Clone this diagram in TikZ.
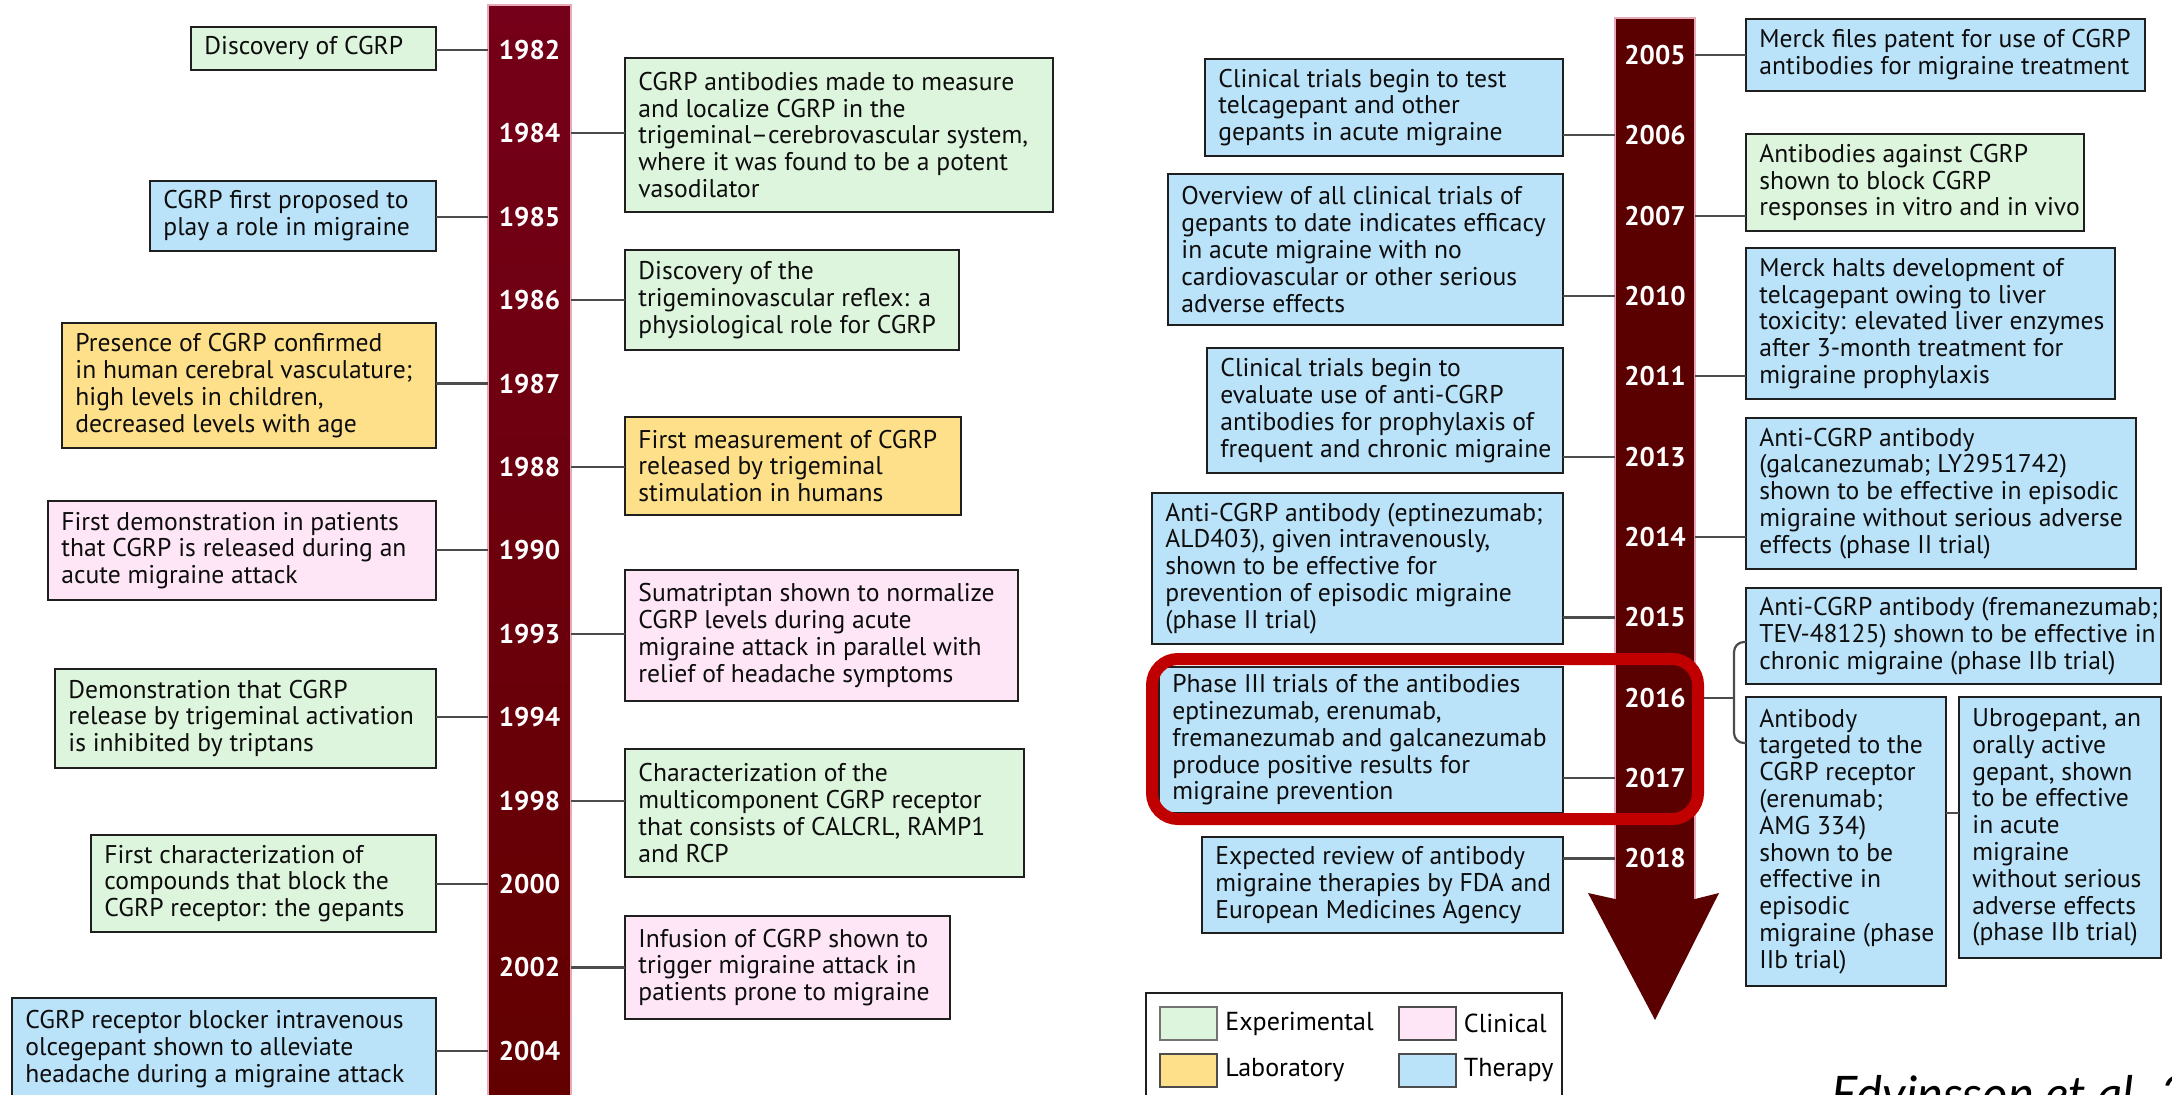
\documentclass[tikz,border=0pt]{standalone}
\usepackage{fontspec}
\setmainfont{PT Sans}
\newfontfamily\citefont{Lato}

\definecolor{expc}{RGB}{221,245,220}
\definecolor{labc}{RGB}{255,224,138}
\definecolor{clinc}{RGB}{254,230,247}
\definecolor{therc}{RGB}{186,226,249}
\definecolor{barTop}{RGB}{117,0,25}
\definecolor{barBot}{RGB}{98,0,0}
\definecolor{barR}{RGB}{90,0,0}
\definecolor{barEdge}{RGB}{230,170,185}
\definecolor{hl}{RGB}{192,0,0}

% event box: name, fill, x0, y0, x1, y1, text (pixel coordinates)
\newcommand\evbox[7]{%
  \node[frame,fill=#2,minimum width={(#5-#3)*0.5pt},minimum height={(#6-#4)*0.5pt}]
    (#1) at ({(#3+#5)/2},{(#4+#6)/2}) {};
  \node[evtext,anchor=west] (#1t) at ([xshift=6.5pt]#1.west) {#7};}

\begin{document}
\begin{tikzpicture}[x=0.5pt,y=-0.5pt,
  frame/.style={draw=black!88,line width=1pt,inner sep=0pt,outer sep=0pt},
  evtext/.style={inner sep=0pt,align=left,text=black!95,font=\fontsize{12.8}{13.4}\selectfont},
  year/.style={text=white,font=\fontsize{13.5}{16}\selectfont\bfseries,inner sep=0pt},
  conn/.style={draw=black!70,line width=1.1pt},
  barstyle/.style={draw=barEdge,line width=0.6pt,inner sep=0pt,outer sep=0pt},
  swatch/.style={draw=black!70,line width=1pt,minimum width=28.5pt,minimum height=16.5pt,inner sep=0pt},
  legtext/.style={inner sep=0pt,anchor=west,font=\fontsize{13}{15}\selectfont}
]
\useasboundingbox (0,0) rectangle (2172,1095);
\fill[white] (0,0) rectangle (2172,1095);

% ---------- timeline bars ----------
\node[barstyle,top color=barTop,bottom color=barBot,minimum width=41.5pt,minimum height=547.5pt]
  (barL) at (529.5,552.5) {};
\node[barstyle,fill=barR,minimum width=40pt,minimum height=442.5pt]
  (barR) at (1655,460.5) {};
\fill[barR] (1615,899) -- (1588,893) -- (1655,1020) -- (1719,893) -- (1695,899) -- cycle;

% ---------- year labels ----------
\foreach \yr [count=\i from 0] in {1982,1984,1985,1986,1987,1988,1990,1993,1994,1998,2000,2002,2004}
  \node[year] (y\yr) at (529.5,{50+83.4*\i}) {\yr};
\foreach \yr [count=\i from 0] in {2005,2006,2007,2010,2011,2013,2014,2015,2016,2017,2018}
  \node[year] (y\yr) at (1655,{55+80.35*\i}) {\yr};

% ---------- 1982--2004, left of bar ----------
\evbox{l1}{expc}{191}{27}{436}{70}{Discovery of CGRP}
\evbox{l2}{therc}{150}{181}{436}{251}{CGRP first proposed to\\play a role in migraine}
\evbox{l3}{labc}{62}{323}{436}{448}{Presence of CGRP confirmed\\in human cerebral vasculature;\\high levels in children,\\decreased levels with age}
\evbox{l4}{clinc}{48}{501}{436}{600}{First demonstration in patients\\that CGRP is released during an\\acute migraine attack}
\evbox{l5}{expc}{55}{669}{436}{768}{Demonstration that CGRP\\release by trigeminal activation\\is inhibited by triptans}
\evbox{l6}{expc}{91}{835}{436}{932}{First characterization of\\compounds that block the\\CGRP receptor: the gepants}
\evbox{l7}{therc}{12}{998}{436}{1100}{CGRP receptor blocker intravenous\\olcegepant shown to alleviate\\headache during a migraine attack}

% ---------- 1982--2004, right of bar ----------
\evbox{m1}{expc}{625}{58}{1053}{212}{CGRP antibodies made to measure\\and localize CGRP in the\\trigeminal--cerebrovascular system,\\where it was found to be a potent\\vasodilator}
\evbox{m2}{expc}{625}{250}{959}{350}{Discovery of the\\trigeminovascular reflex: a\\physiological role for CGRP}
\evbox{m3}{labc}{625}{417}{961}{515}{First measurement of CGRP\\released by trigeminal\\stimulation in humans}
\evbox{m4}{clinc}{625}{570}{1018}{701}{Sumatriptan shown to normalize\\CGRP levels during acute\\migraine attack in parallel with\\relief of headache symptoms}
\evbox{m5}{expc}{625}{749}{1024}{877}{Characterization of the\\multicomponent CGRP receptor\\that consists of CALCRL, RAMP1\\and RCP}
\evbox{m6}{clinc}{625}{916}{950}{1019}{Infusion of CGRP shown to\\trigger migraine attack in\\patients prone to migraine}

% ---------- 2005--2018, left of bar ----------
\evbox{p1}{therc}{1205}{59}{1563}{156}{Clinical trials begin to test\\telcagepant and other\\gepants in acute migraine}
\evbox{p2}{therc}{1168}{174}{1563}{325}{Overview of all clinical trials of\\gepants to date indicates efficacy\\in acute migraine with no\\cardiovascular or other serious\\adverse effects}
\evbox{p3}{therc}{1207}{348}{1563}{473}{Clinical trials begin to\\evaluate use of anti-CGRP\\antibodies for prophylaxis of\\frequent and chronic migraine}
\evbox{p4}{therc}{1152}{493}{1563}{644}{Anti-CGRP antibody (eptinezumab;\\ALD403), given intravenously,\\shown to be effective for\\prevention of episodic migraine\\(phase II trial)}
\evbox{p5}{therc}{1159}{667}{1563}{813}{Phase III trials of the antibodies\\eptinezumab, erenumab,\\fremanezumab and galcanezumab\\produce positive results for\\migraine prevention}
\evbox{p6}{therc}{1202}{837}{1563}{933}{Expected review of antibody\\migraine therapies by FDA and\\European Medicines Agency}

% ---------- 2005--2018, right of bar ----------
\evbox{r1}{therc}{1746}{19}{2145}{91}{Merck files patent for use of CGRP\\antibodies for migraine treatment}
\evbox{r2}{expc}{1746}{134}{2084}{231}{Antibodies against CGRP\\shown to block CGRP\\responses in vitro and in vivo}
\evbox{r3}{therc}{1746}{248}{2115}{399}{Merck halts development of\\telcagepant owing to liver\\toxicity: elevated liver enzymes\\after 3-month treatment for\\migraine prophylaxis}
\evbox{r4}{therc}{1746}{418}{2136}{569}{Anti-CGRP antibody\\(galcanezumab; LY2951742)\\shown to be effective in episodic\\migraine without serious adverse\\effects (phase II trial)}
\evbox{r5}{therc}{1746}{588}{2161}{684}{Anti-CGRP antibody (fremanezumab;\\TEV-48125) shown to be effective in\\chronic migraine (phase IIb trial)}
\evbox{r6}{therc}{1746}{697}{1946}{986}{Antibody\\targeted to the\\CGRP receptor\\(erenumab;\\AMG 334)\\shown to be\\effective in\\episodic\\migraine (phase\\IIb trial)}
\evbox{r7}{therc}{1959}{697}{2161}{958}{Ubrogepant, an\\orally active\\gepant, shown\\to be effective\\in acute\\migraine\\without serious\\adverse effects\\(phase IIb trial)}

% ---------- connectors ----------
\foreach \b/\yr in {l1/1982,l2/1985,l3/1987,l4/1990,l5/1994,l6/2000,l7/2004}
  \draw[conn] (\b.east |- y\yr) -- (barL.west |- y\yr);
\foreach \b/\yr in {m1/1984,m2/1986,m3/1988,m4/1993,m5/1998,m6/2002}
  \draw[conn] (barL.east |- y\yr) -- (\b.west |- y\yr);
\foreach \b/\yr in {p1/2006,p2/2010,p3/2013,p4/2015,p5/2017,p6/2018}
  \draw[conn] (\b.east |- y\yr) -- (barR.west |- y\yr);
\foreach \b/\yr in {r1/2005,r2/2007,r3/2011,r4/2014}
  \draw[conn] (barR.east |- y\yr) -- (\b.west |- y\yr);
% 2016: bracket to the two results
\coordinate (brk) at (1734,698);
\draw[conn] (barR.east |- y2016) -- (brk |- y2016);
\draw[conn,rounded corners=5pt] (r5.west |- 0,642) -| (brk) |- (r6.west |- 0,743);
\draw[conn] (r6.east |- 0,813) -- (r7.west |- 0,813);

% ---------- highlight ----------
\node[draw=hl,line width=6pt,rounded corners=13pt,minimum width=273pt,minimum height=80pt,inner sep=0pt]
  (focus) at (1425,739) {};

% ---------- legend ----------
\node[frame,fill=white,minimum width=208pt,minimum height=60pt] (legend) at (1354,1053) {};
\node[swatch,fill=expc,draw=black!55] (sw1) at (1188.5,1023.5) {};
\node[legtext] (lt1) at ([xshift=3.5pt]sw1.east) {Experimental};
\node[swatch,fill=clinc] (sw2) at (1427,1023.5) {};
\node[legtext] (lt2) at ([xshift=3.5pt]sw2.east) {Clinical};
\node[swatch,fill=labc] (sw3) at (1188.5,1070) {};
\node[legtext] (lt3) at ([xshift=3.5pt]sw3.east) {Laboratory};
\node[swatch,fill=therc] (sw4) at (1427,1070) {};
\node[legtext] (lt4) at ([xshift=3.5pt]sw4.east) {Therapy};

% ---------- source ----------
\node[anchor=base west,inner sep=0pt,font=\citefont\itshape\fontsize{24.5}{28}\selectfont]
  (cite) at (1831,1111) {Edvinsson et al. 2018};
\end{tikzpicture}
\end{document}
